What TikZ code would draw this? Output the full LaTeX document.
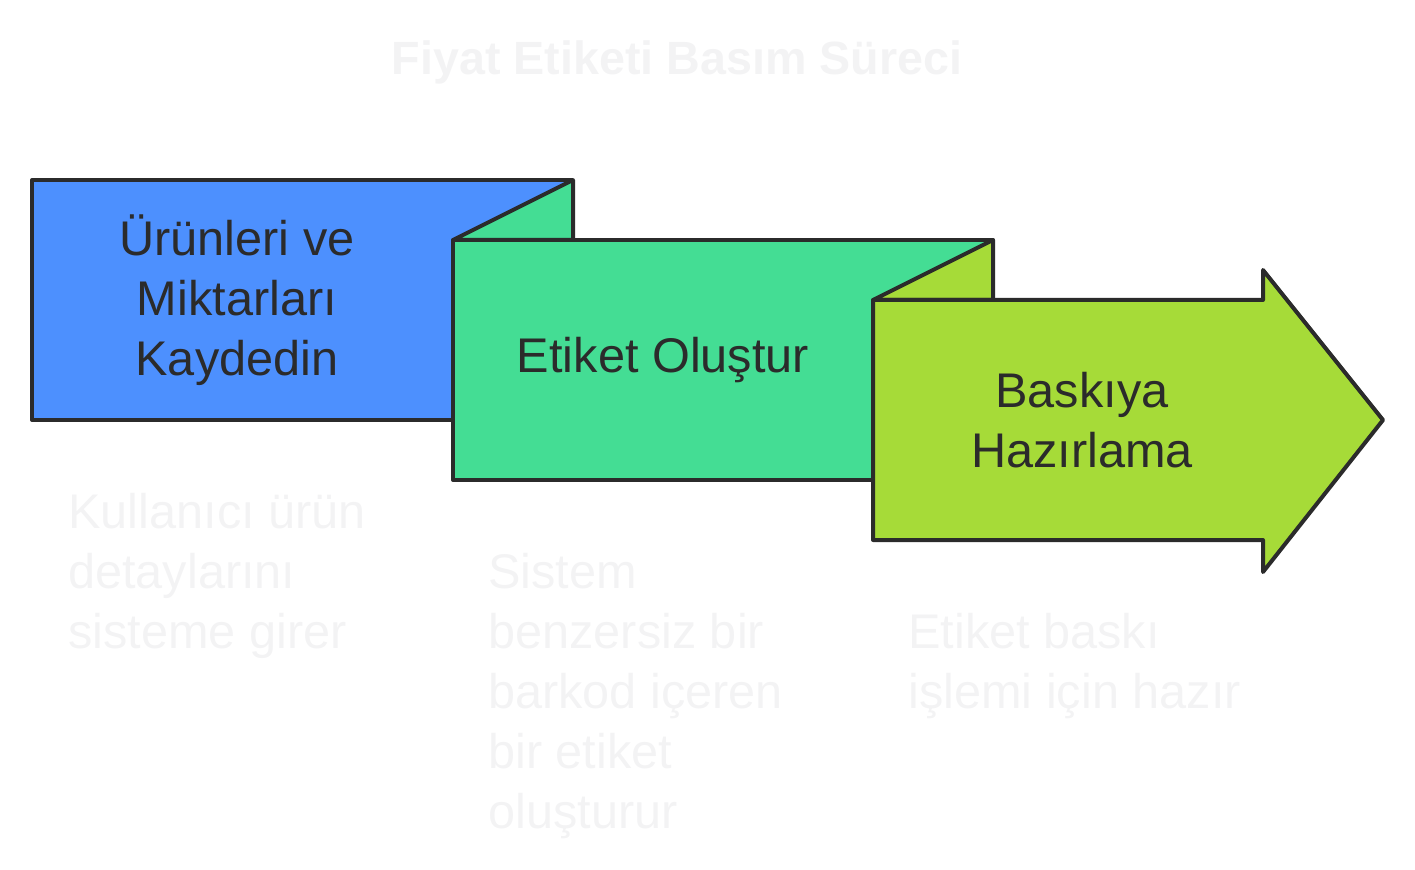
\documentclass[tikz,border=0pt]{standalone}
\usepackage{fontspec}
\setmainfont{Liberation Sans}
\usetikzlibrary{positioning}
\definecolor{stepblue}{HTML}{4D90FE}
\definecolor{stepgreen}{HTML}{44DD94}
\definecolor{steplime}{HTML}{A6DB38}
\definecolor{edge}{HTML}{2B2B2B}
\definecolor{faint}{HTML}{F3F3F4}
\begin{document}
\begin{tikzpicture}[x=0.75pt, y=-0.75pt,
    panel/.style={draw=edge, line width=3pt, line join=round},
    lbl/.style={font=\fontsize{36.5}{45}\selectfont, text=edge, align=center, inner sep=0pt},
    desc/.style={font=\fontsize{36.5}{45}\selectfont, text=faint, align=left, anchor=base west, inner sep=0pt}]
  \useasboundingbox (0,0) rectangle (1415,870);
  % title
  \node[font=\bfseries\fontsize{35}{40}\selectfont, text=faint] (title) at (677,62) {Fiyat Etiketi Basım Süreci};
  % step shapes
  \fill[stepblue] (32,180) rectangle (573,420);
  \draw[panel] (573,180) -- (32,180) -- (32,420) -- (453,420);
  \filldraw[panel, fill=stepgreen] (453,240) -- (573,180) -- (573,240) -- cycle;
  \filldraw[panel, fill=stepgreen] (453,240) rectangle (993,480);
  \filldraw[panel, fill=steplime] (873,300) -- (993,240) -- (993,300) -- cycle;
  \filldraw[panel, fill=steplime] (873,300) -- (1263,300) -- (1263,270) -- (1383,420)
    -- (1263,572) -- (1263,540) -- (873,540) -- cycle;
  % step labels
  \node[lbl] (record) at (237,300) {Ürünleri ve\\Miktarları\\Kaydedin};
  \node[lbl] (create) at (663,360) {Etiket Oluştur};
  \node[lbl] (print) at (1082,420) {Baskıya\\Hazırlama};
  % descriptions (anchored at the last baseline)
  \node[desc] (recordtxt) at (68,648) {Kullanıcı ürün\\detaylarını\\sisteme girer};
  \node[desc] (createtxt) at (488,828) {Sistem\\benzersiz bir\\barkod içeren\\bir etiket\\oluşturur};
  \node[desc] (printtxt) at (908,708) {Etiket baskı\\işlemi için hazır};
\end{tikzpicture}
\end{document}
